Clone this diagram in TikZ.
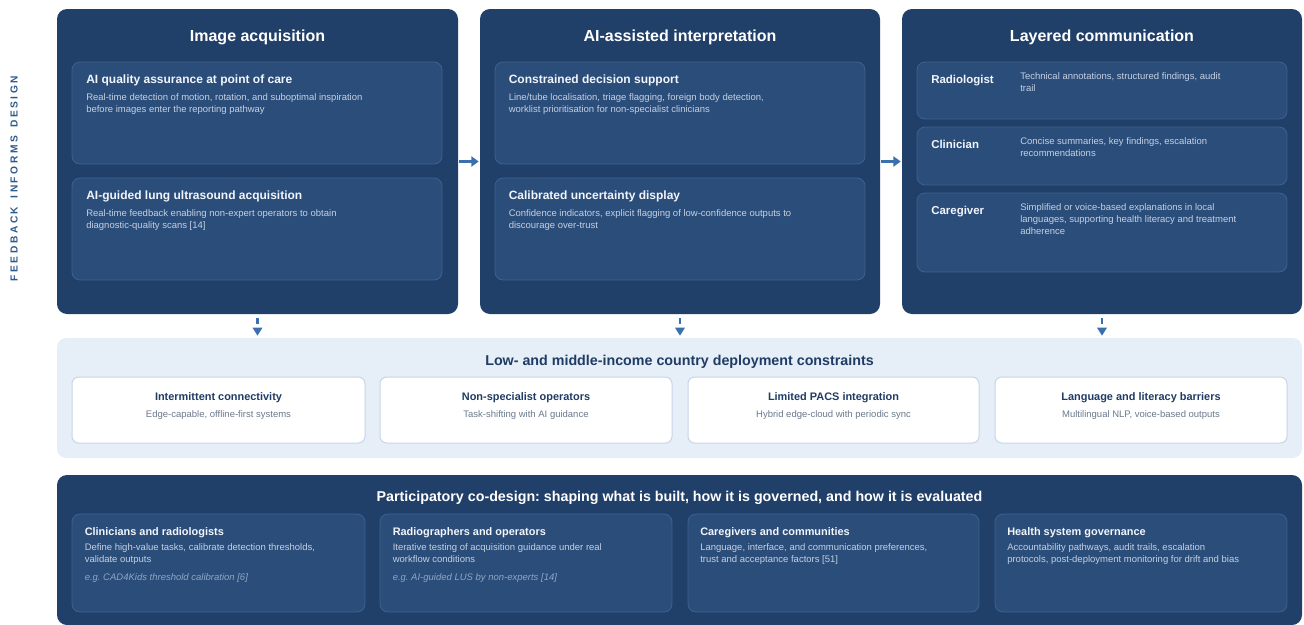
\documentclass[tikz,border=0pt]{standalone}
\usepackage{fontspec}
\setmainfont{Liberation Sans}
\usetikzlibrary{fit,arrows.meta}
\frenchspacing

\definecolor{navy}{HTML}{203F69}
\definecolor{subfill}{HTML}{2B4D7A}
\definecolor{subline}{HTML}{3D6190}
\definecolor{headtext}{HTML}{F2F5FA}
\definecolor{desctext}{HTML}{C3D0E3}
\definecolor{arrowblue}{HTML}{3A70AE}
\definecolor{bandfill}{HTML}{E6EEF8}
\definecolor{cardline}{HTML}{C7D5E8}
\definecolor{navytext}{HTML}{1F3C64}
\definecolor{greytext}{HTML}{6B7A8E}
\definecolor{exampletext}{HTML}{8EA6C6}
\definecolor{sidetext}{HTML}{2D5A8B}

\newcommand\wordgap{\hspace{2.2pt}}

\begin{document}
\begin{tikzpicture}[x=0.75pt,y=-0.75pt,
  panel/.style={fill=navy,draw=none,rounded corners=7.5pt,inner sep=0pt},
  subbox/.style={fill=subfill,draw=subline,line width=0.6pt,rounded corners=6pt,inner sep=0pt},
  band/.style={fill=bandfill,draw=none,rounded corners=7pt,inner sep=0pt},
  card/.style={fill=white,draw=cardline,line width=0.75pt,rounded corners=5pt,inner sep=0pt},
  ptitle/.style={anchor=base,inner sep=0pt,text=white,font=\fontsize{12}{14}\selectfont\bfseries},
  stitle/.style={anchor=base west,inner sep=0pt,text=headtext,font=\fontsize{9}{11}\selectfont\bfseries},
  role/.style={anchor=base west,inner sep=0pt,text=headtext,font=\fontsize{8.6}{11}\selectfont\bfseries},
  % multi-line text: the base anchor sits on the last line
  desc/.style={anchor=base west,inner sep=0pt,align=left,text=desctext,font=\fontsize{7.125}{9}\selectfont},
  example/.style={anchor=base west,inner sep=0pt,text=exampletext,font=\fontsize{7.125}{9}\selectfont\itshape},
  btitle/.style={anchor=base,inner sep=0pt,font=\fontsize{10.7}{13}\selectfont\bfseries},
  ctitle/.style={anchor=base,inner sep=0pt,text=navytext,font=\fontsize{8.2}{10}\selectfont\bfseries},
  csub/.style={anchor=base,inner sep=0pt,text=greytext,font=\fontsize{7.125}{9}\selectfont},
  gtitle/.style={anchor=base west,inner sep=0pt,text=headtext,font=\fontsize{8.2}{10}\selectfont\bfseries},
  flow/.style={-{Triangle[length=5.5pt,width=7.5pt]},line width=2.2pt,draw=arrowblue},
  down/.style={-{Triangle[length=6pt,width=7pt]},line width=1.9pt,draw=arrowblue,dash pattern=on 4.5pt off 3pt},
  side/.style={rotate=90,inner sep=0pt,text=sidetext,font=\fontsize{7.65}{9}\selectfont\bfseries\addfontfeature{LetterSpace=25}}
]
\useasboundingbox (0,0) rectangle (1304,625);

% side label
\node[side] (sidelabel) at (14,178.5) {FEEDBACK\wordgap{} INFORMS\wordgap{} DESIGN};

% three stage panels
\node[panel,fit={(57,9)(458,314)}] (acq) {};
\node[panel,fit={(480,9)(880,314)}] (interp) {};
\node[panel,fit={(902,9)(1302,314)}] (comm) {};

\node[ptitle] (acqT) at (257.5,41) {Image acquisition};
\node[ptitle] (interpT) at (680,41) {AI-assisted interpretation};
\node[ptitle] (commT) at (1102,41) {Layered communication};

% image acquisition
\node[subbox,fit={(72,62)(442,164)}] (qa) {};
\node[stitle] (qaT) at (86,83) {AI quality assurance at point of care};
\node[desc] (qaD) at (86,112) {Real-time detection of motion, rotation, and suboptimal inspiration\\before images enter the reporting pathway};

\node[subbox,fit={(72,178)(442,280)}] (lus) {};
\node[stitle] (lusT) at (86,199) {AI-guided lung ultrasound acquisition};
\node[desc] (lusD) at (86,228) {Real-time feedback enabling non-expert operators to obtain\\diagnostic-quality scans [14]};

% interpretation
\node[subbox,fit={(495,62)(865,164)}] (cds) {};
\node[stitle] (cdsT) at (508.5,83) {Constrained decision support};
\node[desc] (cdsD) at (508.5,112) {Line/tube localisation, triage flagging, foreign body detection,\\worklist prioritisation for non-specialist clinicians};

\node[subbox,fit={(495,178)(865,280)}] (unc) {};
\node[stitle] (uncT) at (508.5,199) {Calibrated uncertainty display};
\node[desc] (uncD) at (508.5,228) {Confidence indicators, explicit flagging of low-confidence outputs to\\discourage over-trust};

% layered communication
\node[subbox,fit={(917,62)(1287,119)}] (rad) {};
\node[role] (radT) at (931,83) {Radiologist};
\node[desc] (radD) at (1020,91) {Technical annotations, structured findings, audit\\trail};

\node[subbox,fit={(917,127)(1287,185)}] (cli) {};
\node[role] (cliT) at (931,148) {Clinician};
\node[desc] (cliD) at (1020,156) {Concise summaries, key findings, escalation\\recommendations};

\node[subbox,fit={(917,193)(1287,272)}] (care) {};
\node[role] (careT) at (931,214) {Caregiver};
\node[desc] (careD) at (1020,234) {Simplified or voice-based explanations in local\\languages, supporting health literacy and treatment\\adherence};

% constraints band
\node[band,fit={(57,338)(1302,458)}] (band) {};
\node[btitle,text=navytext] (bandT) at (679.5,365) {Low- and middle-income country deployment constraints};

\node[card,fit={(72,377)(365,443)}] (c1) {};
\node[ctitle] (c1T) at (218.5,400.5) {Intermittent connectivity};
\node[csub] (c1D) at (218.5,417) {Edge-capable, offline-first systems};

\node[card,fit={(380,377)(672,443)}] (c2) {};
\node[ctitle] (c2T) at (526,400.5) {Non-specialist operators};
\node[csub] (c2D) at (526,417) {Task-shifting with AI guidance};

\node[card,fit={(688,377)(979,443)}] (c3) {};
\node[ctitle] (c3T) at (833.5,400.5) {Limited PACS integration};
\node[csub] (c3D) at (833.5,417) {Hybrid edge-cloud with periodic sync};

\node[card,fit={(995,377)(1287,443)}] (c4) {};
\node[ctitle] (c4T) at (1141,400.5) {Language and literacy barriers};
\node[csub] (c4D) at (1141,417) {Multilingual NLP, voice-based outputs};

% participatory co-design
\node[panel,fit={(57,475)(1302,625)}] (codesign) {};
\node[btitle,text=white] (codesignT) at (679.5,501.5) {Participatory co-design: shaping what is built, how it is governed, and how it is evaluated};

\node[subbox,fit={(72,514)(365,612)}] (g1) {};
\node[gtitle] (g1T) at (84.5,535) {Clinicians and radiologists};
\node[desc] (g1D) at (84.5,562) {Define high-value tasks, calibrate detection thresholds,\\validate outputs};
\node[example] (g1E) at (84.5,580) {e.g. CAD4Kids threshold calibration [6]};

\node[subbox,fit={(380,514)(672,612)}] (g2) {};
\node[gtitle] (g2T) at (392.5,535) {Radiographers and operators};
\node[desc] (g2D) at (392.5,562) {Iterative testing of acquisition guidance under real\\workflow conditions};
\node[example] (g2E) at (392.5,580) {e.g. AI-guided LUS by non-experts [14]};

\node[subbox,fit={(688,514)(979,612)}] (g3) {};
\node[gtitle] (g3T) at (700,535) {Caregivers and communities};
\node[desc] (g3D) at (700,562) {Language, interface, and communication preferences,\\trust and acceptance factors [51]};

\node[subbox,fit={(995,514)(1287,612)}] (g4) {};
\node[gtitle] (g4T) at (1007,535) {Health system governance};
\node[desc] (g4D) at (1007,562) {Accountability pathways, audit trails, escalation\\protocols, post-deployment monitoring for drift and bias};

% connectors
\draw[flow,shorten <=0.75pt,shorten >=0.75pt] (acq.east) -- (interp.west);
\draw[flow,shorten <=0.75pt,shorten >=0.75pt] (interp.east) -- (comm.west);
\draw[down,shorten <=3pt,shorten >=1.5pt] (acq.south) -- (acq.south |- band.north);
\draw[down,shorten <=3pt,shorten >=1.5pt] (interp.south) -- (interp.south |- band.north);
\draw[down,shorten <=3pt,shorten >=1.5pt] (comm.south) -- (comm.south |- band.north);
\end{tikzpicture}
\end{document}
